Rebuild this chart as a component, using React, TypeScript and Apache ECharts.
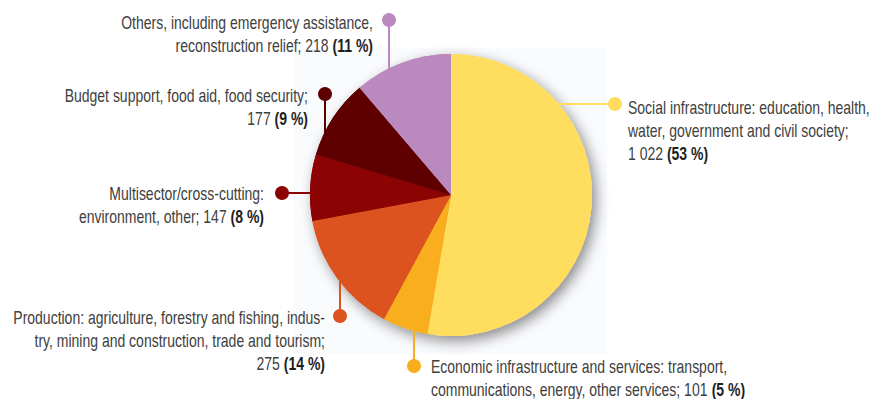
import React, { useEffect, useRef } from "react";
import * as echarts from "echarts";

const categories = [
  "Social infrastructure: education, health,\nwater, government and civil society;\n",
  "Economic infrastructure and services: transport,\ncommunications, energy, other services; ",
  "Production: agriculture, forestry and fishing, indus-\ntry, mining and construction, trade and tourism;\n",
  "Multisector/cross-cutting:\nenvironment, other; ",
  "Budget support, food aid, food security;\n",
  "Others, including emergency assistance,\nreconstruction relief; ",
];
const valueLabels = ["1 022", "101", "275", "147", "177", "218"];
const values = [1022, 101, 275, 147, 177, 218];
const percents = ["53 %", "5 %", "14 %", "8 %", "9 %", "11 %"];
const colors = ["#FFDD5E", "#F9AE1E", "#DC531F", "#8C0304", "#5E0000", "#BA89BE"];

// label layout: text anchor, first-line centre, alignment, connector (dot, end)
const layout = [
  { x: 628, y: 108, align: "left", dot: [615, 104], end: [557, 104] },
  { x: 431, y: 367, align: "left", dot: [414, 366], end: [414, 330] },
  { x: 325, y: 318, align: "right", dot: [340, 316], end: [340, 281] },
  { x: 264, y: 194, align: "right", dot: [282, 193], end: [312, 193] },
  { x: 308, y: 96, align: "right", dot: [325, 94], end: [325, 133] },
  { x: 373, y: 23, align: "right", dot: [389, 20], end: [389, 69] },
];

const FONT_FAMILY = "'Liberation Sans', Arial, sans-serif";
const FONT_SIZE = 17.5;
const LH = 23;

function measureScale(): number {
  try {
    const c = document.createElement("canvas").getContext("2d");
    if (!c) return 0.82;
    c.font = FONT_SIZE + "px " + FONT_FAMILY;
    const w = c.measureText("Social infrastructure: education, health,").width;
    if (!w) return 0.82;
    return 242 / w;
  } catch (e) {
    return 0.82;
  }
}

export default function App() {
  const ref = useRef<HTMLDivElement>(null);
  useEffect(() => {
    document.body.style.margin = "0";
    if (!ref.current) return;
    const chart = echarts.init(ref.current, undefined, { renderer: "svg" });
    const sx = measureScale();
    const data = values.map((v, i) => ({
      value: v,
      name: categories[i],
      itemStyle: { color: colors[i] },
    }));
    const graphics: any[] = [
      {
        type: "rect",
        shape: { x: 293, y: 48, width: 314, height: 306 },
        style: { fill: "#FAFBFD" },
        z: -10,
        silent: true,
      },
    ];
    layout.forEach((l, i) => {
      graphics.push({
        type: "line",
        shape: { x1: l.dot[0], y1: l.dot[1], x2: l.end[0], y2: l.end[1] },
        style: { stroke: colors[i], lineWidth: 2 },
        z: 10,
      });
      graphics.push({
        type: "circle",
        shape: { cx: l.dot[0], cy: l.dot[1], r: 7 },
        style: { fill: colors[i] },
        z: 10,
      });
      graphics.push({
        type: "text",
        x: l.x,
        y: l.y - LH / 2,
        scaleX: sx,
        z: 10,
        style: {
          text: categories[i] + valueLabels[i] + " {b|(" + percents[i] + ")}",
          fontFamily: FONT_FAMILY,
          fontSize: FONT_SIZE,
          fill: "#404040",
          align: l.align,
          verticalAlign: "top",
          lineHeight: LH,
          rich: {
            b: {
              fontFamily: FONT_FAMILY,
              fontSize: FONT_SIZE,
              fontWeight: "bold",
              fill: "#1E1E1E",
              lineHeight: LH,
            },
          },
        },
      });
    });
    chart.setOption({
      animation: false,
      graphic: graphics,
      series: [
        {
          type: "pie",
          z: 1,
          silent: true,
          center: [451, 195],
          radius: 141,
          startAngle: 90,
          clockwise: true,
          label: { show: false },
          labelLine: { show: false },
          itemStyle: {
            shadowBlur: 14,
            shadowOffsetX: 4,
            shadowOffsetY: 5,
            shadowColor: "rgba(0,0,0,0.45)",
          },
          data,
        },
        {
          type: "pie",
          z: 2,
          center: [451, 195],
          radius: 141,
          startAngle: 90,
          clockwise: true,
          label: { show: false },
          labelLine: { show: false },
          itemStyle: { borderWidth: 0 },
          emphasis: { disabled: true },
          data,
        },
      ],
    });
    return () => chart.dispose();
  }, []);
  return <div ref={ref} style={{ width: 871, height: 399 }} />;
}
